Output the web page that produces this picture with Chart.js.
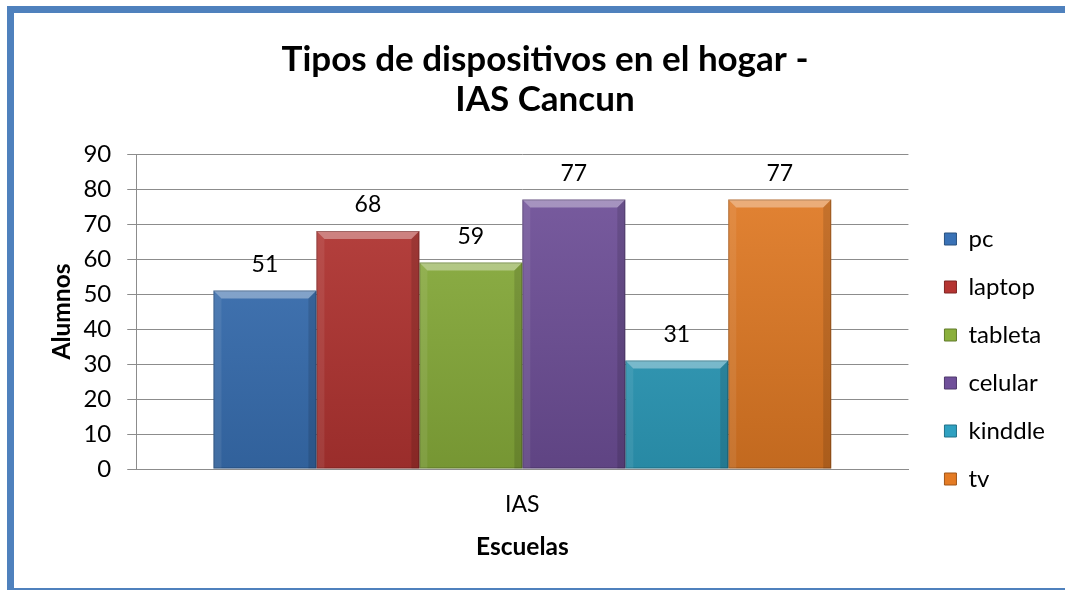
<!DOCTYPE html>
<html>
<head>
<meta charset="utf-8">
<script src="https://cdn.jsdelivr.net/npm/chart.js@4"></script>
<style>
  html, body { margin: 0; padding: 0; background: #fff; }
  #marco { position: absolute; left: 0; top: 0; width: 1065px; height: 590px; overflow: hidden; }
  #borde { position: absolute; left: 7px; top: 6px; width: 1100px; height: 589px; border: 7px solid #4f81bd; box-sizing: border-box; }
  #lienzo { position: absolute; left: 0; top: 0; width: 1065px; height: 590px; }
</style>
</head>
<body>
<div id="marco">
  <div id="borde"></div>
  <div id="lienzo"><canvas id="grafica"></canvas></div>
</div>
<script>
/* datos */
const categorias = ['IAS'];
const dispositivos = ['pc', 'laptop', 'tableta', 'celular', 'kinddle', 'tv'];
const alumnos = [51, 68, 59, 77, 31, 77];
const colores = ['#3a72b6', '#b53532', '#8bb03c', '#70509a', '#2fa1c1', '#e47b24'];
const ticksY = [0, 10, 20, 30, 40, 50, 60, 70, 80, 90];

const fuente = "Lato, 'Open Sans', sans-serif";

function aclarar(hex, f) {
    const n = parseInt(hex.slice(1), 16);
    let r = (n >> 16) & 255, g = (n >> 8) & 255, b = n & 255;
    if (f > 0) { r += (255 - r) * f; g += (255 - g) * f; b += (255 - b) * f; }
    else { r *= (1 + f); g *= (1 + f); b *= (1 + f); }
    return 'rgb(' + Math.round(r) + ',' + Math.round(g) + ',' + Math.round(b) + ')';
}

// mueve la leyenda un poco (a la derecha y hacia abajo)
const moverLeyenda = {
    id: 'moverLeyenda',
    afterLayout: function(chart) {
        const ley = chart.legend;
        if (!ley) return;
        ley.left += 12; ley.right += 12;
        ley.top += 58; ley.bottom += 58;
    }
};

// relieve de las barras y etiquetas de valores
const relieve = {
    id: 'relieve',
    afterDatasetsDraw: function(chart) {
        const ctx = chart.ctx;
        chart.data.datasets.forEach(function(ds, i) {
            const meta = chart.getDatasetMeta(i);
            meta.data.forEach(function(bar) {
                const izq = bar.x - bar.width / 2, der = bar.x + bar.width / 2;
                const arriba = bar.y, abajo = bar.base, b = 8;
                ctx.save();
                ctx.fillStyle = 'rgba(255,255,255,0.35)';
                ctx.beginPath();
                ctx.moveTo(izq, arriba); ctx.lineTo(der, arriba);
                ctx.lineTo(der - b, arriba + b); ctx.lineTo(izq + b, arriba + b);
                ctx.closePath(); ctx.fill();
                ctx.fillStyle = 'rgba(255,255,255,0.08)';
                ctx.beginPath();
                ctx.moveTo(izq, arriba); ctx.lineTo(izq + b, arriba + b);
                ctx.lineTo(izq + b, abajo); ctx.lineTo(izq, abajo);
                ctx.closePath(); ctx.fill();
                ctx.fillStyle = 'rgba(0,0,0,0.12)';
                ctx.beginPath();
                ctx.moveTo(der, arriba); ctx.lineTo(der - b, arriba + b);
                ctx.lineTo(der - b, abajo); ctx.lineTo(der, abajo);
                ctx.closePath(); ctx.fill();
                ctx.strokeStyle = 'rgba(0,0,0,0.22)';
                ctx.lineWidth = 1;
                ctx.strokeRect(izq + 0.5, arriba + 0.5, bar.width - 1, abajo - arriba - 1);
                ctx.fillStyle = '#000';
                ctx.font = '23px ' + fuente;
                ctx.textAlign = 'center';
                ctx.textBaseline = 'middle';
                ctx.fillText(String(ds.data[0]), bar.x, arriba - 26);
                ctx.restore();
            });
        });
    }
};

const conjuntos = dispositivos.map(function(nombre, i) {
    return {
        label: nombre,
        data: [alumnos[i]],
        backgroundColor: function(c) {
            const area = c.chart.chartArea;
            if (!area) return colores[i];
            const g = c.chart.ctx.createLinearGradient(0, area.top, 0, area.bottom);
            g.addColorStop(0, aclarar(colores[i], 0.08));
            g.addColorStop(1, aclarar(colores[i], -0.15));
            return g;
        },
        borderWidth: 0,
        categoryPercentage: 0.8,
        barPercentage: 1.0
    };
});

new Chart(document.getElementById('grafica'), {
    type: 'bar',
    data: { labels: categorias, datasets: conjuntos },
    options: {
        responsive: true,
        maintainAspectRatio: false,
        animation: false,
        layout: { padding: { top: 40, left: 47, right: 22, bottom: 28 } },
        plugins: {
            title: {
                display: true,
                text: ['Tipos de dispositivos en el hogar -', 'IAS Cancun'],
                color: '#000',
                font: { family: fuente, size: 35, weight: 'bold', lineHeight: 1.143 },
                padding: { top: 0, bottom: 34 }
            },
            legend: {
                position: 'right',
                labels: {
                    color: '#000',
                    font: { family: fuente, size: 24 },
                    boxWidth: 12,
                    boxHeight: 12,
                    padding: 24,
                    generateLabels: function(chart) {
                        return dispositivos.map(function(n, i) {
                            return { text: n, fillStyle: colores[i], strokeStyle: aclarar(colores[i], -0.3), lineWidth: 1, fontColor: '#000', datasetIndex: i };
                        });
                    }
                }
            },
            tooltip: { enabled: false }
        },
        scales: {
            x: {
                grid: { display: false },
                border: { color: '#8c8c8c' },
                ticks: { color: '#000', font: { family: fuente, size: 23 }, padding: 14 },
                title: { display: true, text: 'Escuelas', color: '#000', font: { family: fuente, size: 24.5, weight: 'bold' }, padding: { top: 0, bottom: 0 } }
            },
            y: {
                min: ticksY[0],
                max: ticksY[ticksY.length - 1],
                afterBuildTicks: function(ax) { ax.ticks = ticksY.map(function(v) { return { value: v }; }); },
                grid: { color: '#8c8c8c', tickLength: 9 },
                border: { color: '#8c8c8c' },
                ticks: { color: '#000', font: { family: fuente, size: 24 }, padding: 16 },
                title: { display: true, text: 'Alumnos', color: '#000', font: { family: fuente, size: 24.5, weight: 'bold' }, padding: { top: 0, bottom: -9 } }
            }
        }
    },
    plugins: [relieve, moverLeyenda]
});
</script>
</body>
</html>
